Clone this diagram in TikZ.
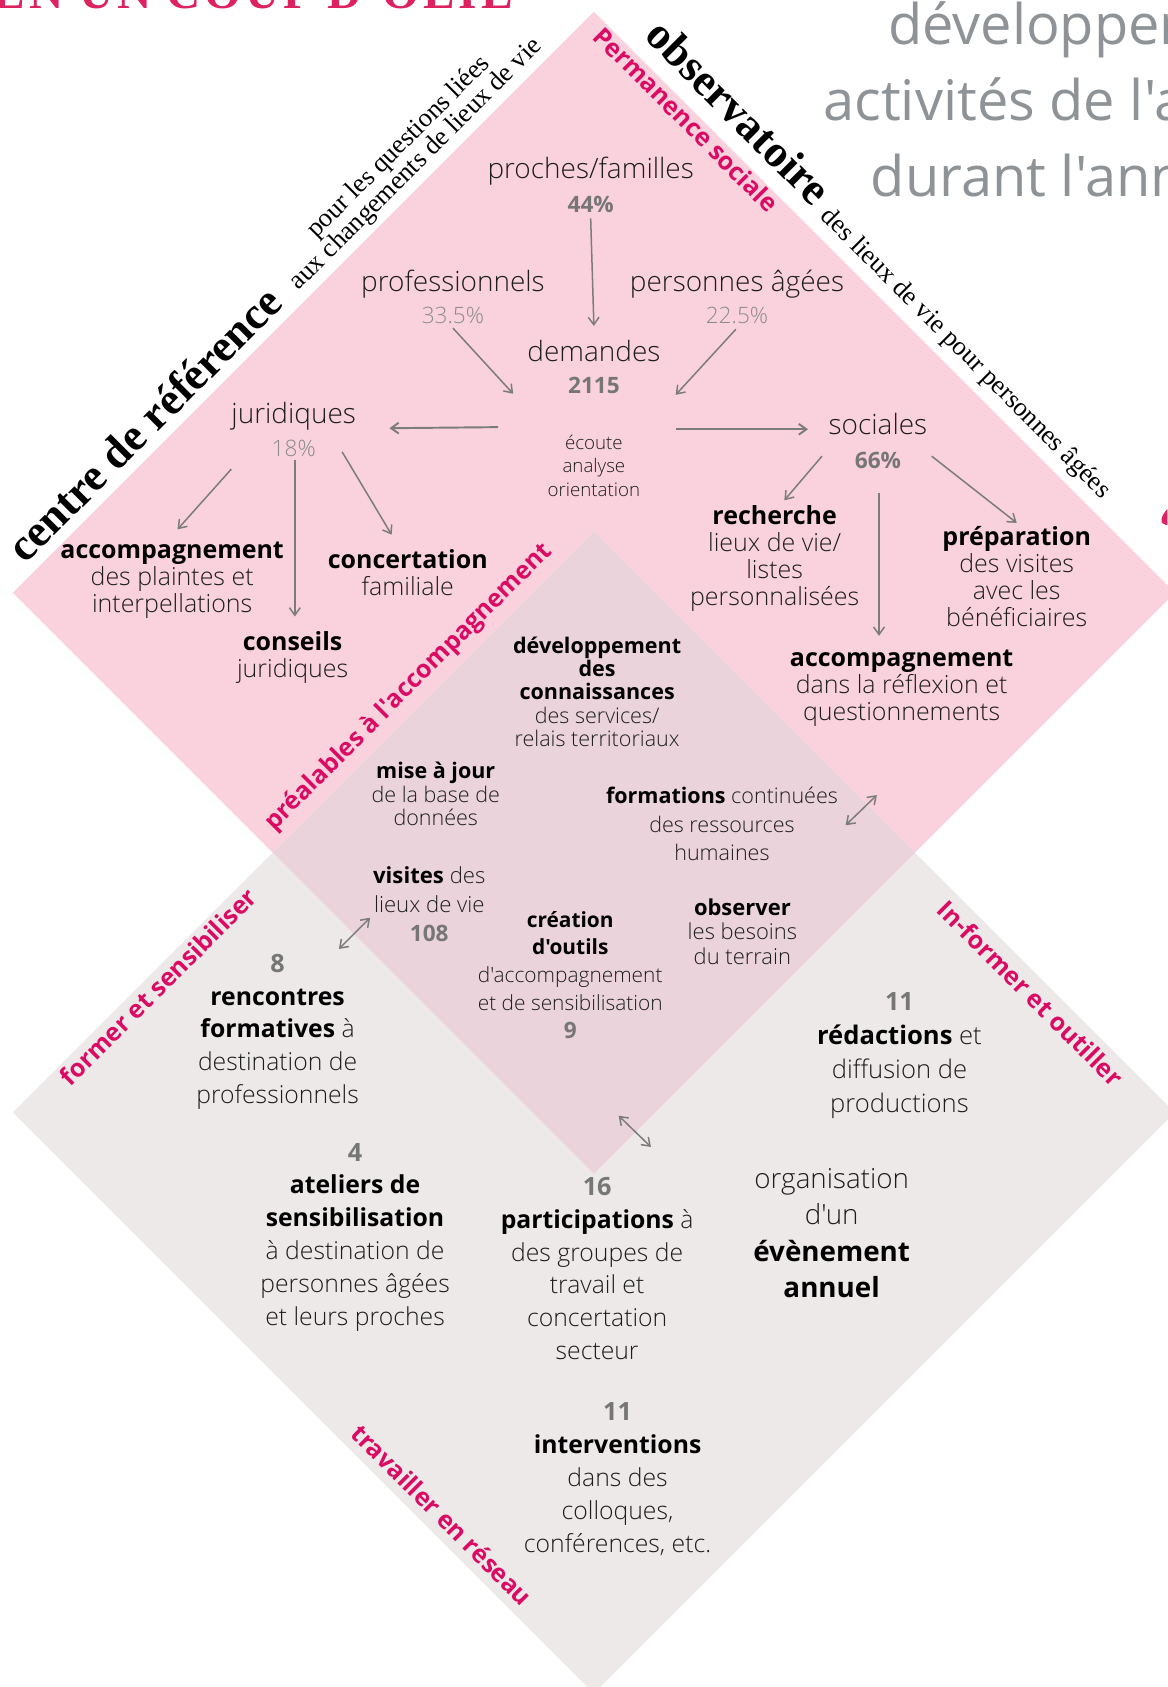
\documentclass[tikz,border=0pt]{standalone}
\usepackage{fontspec}
\usetikzlibrary{arrows.meta,calc}
\setmainfont{Open Sans}
\newfontfamily\osl{Open Sans Light}
\newfontfamily\osreg{Open Sans}
\newfontfamily\serifd{Liberation Serif}
\definecolor{pinkd}{HTML}{FAD2DE}
\definecolor{greyd}{HTML}{EDE9E9}
\definecolor{both}{HTML}{EAD3DA}
\definecolor{mag}{HTML}{DB0B63}
\definecolor{ttl}{HTML}{DC2360}
\definecolor{hd}{HTML}{8E9397}
\definecolor{txt}{HTML}{1E1E1E}
\definecolor{stat}{HTML}{767676}
\definecolor{statl}{HTML}{8C8C8C}
\definecolor{arrc}{HTML}{7C7C7C}
\newcommand\fsz[2]{\fontsize{#1}{#2}\selectfont}
\newcommand\bb[1]{{\osreg\bfseries\color{black}#1}}
\newcommand\st[1]{{\osreg\bfseries\color{stat}\fontsize{10.5}{12}\selectfont #1}}
\newcommand\stb[1]{{\osreg\bfseries\color{stat}\fontsize{11.7}{12}\selectfont #1}}
\newcommand\stl[1]{{\color{statl}\fontsize{10.5}{12}\selectfont #1}}
\tikzset{
  lab/.style={inner sep=0pt,align=center,text=txt},
  big/.style={lab,font=\osl\fsz{13}{15.5}},
  blk/.style={lab,font=\osl\fsz{11.6}{12.6}},
  mid/.style={lab,font=\osl\fsz{10}{10.8}},
  low/.style={lab,font=\osl\fsz{11.5}{15.3}},
  side/.style={inner sep=0pt,text=mag,font=\osreg\bfseries\fsz{11.6}{13}},
  sdis/.style={inner sep=0pt,text=black,align=center,font=\serifd\bfseries\fsz{21}{24}},
  sser/.style={inner sep=0pt,text=black,align=center,font=\serifd\fsz{12.3}{11.3}},
  head/.style={inner sep=0pt,anchor=base west,text=hd,font=\osreg\fsz{26}{30}},
  arr/.style={draw=arrc,line width=0.7pt,-{Straight Barb[length=3.5pt,width=5pt]}},
  arrb/.style={draw=arrc,line width=0.7pt,{Straight Barb[length=3.5pt,width=5pt]}-{Straight Barb[length=3.5pt,width=5pt]}}
}
\begin{document}
\begin{tikzpicture}[x=0.5pt,y=-0.5pt]
\useasboundingbox (0,0) rectangle (1085,1568);
% diamonds
\fill[pinkd] (552,11) -- (1092,551) -- (552,1091) -- (12,551) -- cycle;
\fill[greyd] (552,494) -- (1092,1034) -- (552,1574) -- (12,1034) -- cycle;
\fill[both] (552,494) -- (850.5,792.5) -- (552,1091) -- (253.5,792.5) -- cycle;
\clip (0,0) rectangle (1085,1568);
\fill[ttl] (1086,472) .. controls (1082,476) and (1078,482) .. (1080,486) .. controls (1082,488) and (1085,488) .. (1086,488) -- cycle;
% header
\node[inner sep=0pt,anchor=base west,text=ttl,font=\serifd\bfseries\fsz{22}{26}] (title) at (-6,8) {\addfontfeature{LetterSpace=8}EN UN COUP D'OEIL};
\node[head] (h1) at (825,41) {développer};
\node[head] (h2) at (765,112) {activités de l'association};
\node[head] (h3) at (809,183) {durant l'année};
% rotated titles
\node[sdis,rotate=45] (cref) at (134,394) {centre de référence};
\node[sser,rotate=45] (cref2) at (379,145) {pour les questions liées\\aux changements de lieux de vie};
\node[sdis,rotate=-45] (obs) at (687,104) {observatoire};
\node[sser,rotate=-45] (obs2) at (897,329) {des lieux de vie pour personnes âgées};
\node[side,rotate=-45] (perm) at (638,111) {Permanence sociale};
\node[side,rotate=45] (prea) at (380,639) {préalables à l'accompagnement};
\node[side,rotate=45] (form) at (147,917) {former et sensibiliser};
\node[side,rotate=-45] (info) at (958,923) {In-former et outiller};
\node[side,rotate=-45] (trav) at (411,1408) {travailler en réseau};
% top block
\node[big] (pf) at (549,172) {proches/familles\\\st{44\%}};
\node[big,font=\osl\fsz{13}{15}] (pro) at (421,276) {professionnels\\\stl{33.5\%}};
\node[big,font=\osl\fsz{13}{15}] (pa) at (685,276) {personnes âgées\\\stl{22.5\%}};
\node[big,font=\osl\fsz{13}{15}] (dem) at (552,341) {demandes\\\st{2115}};
\node[big] (jur) at (273,399) {juridiques\\\stl{18\%}};
\node[big] (soc) at (816,410) {sociales\\\st{66\%}};
\node[lab,font=\osl\fsz{8.7}{11}] (eco) at (552,433) {écoute\\analyse\\orientation};
\node[blk] (acc1) at (160,539) {\bb{accompagnement}\\des plaintes et\\interpellations};
\node[blk] (conc) at (379,532) {\bb{concertation}\\familiale};
\node[blk] (cons) at (272,611) {\bb{conseils}\\juridiques};
\node[blk] (rech) at (720,519) {\bb{recherche}\\lieux de vie/\\listes\\personnalisées};
\node[blk] (prep) at (945,536) {\bb{préparation}\\des visites\\avec les\\bénéficiaires};
\node[blk] (acc2) at (838,640) {\bb{accompagnement}\\dans la réflexion et\\questionnements};
% centre block
\node[mid] (dev) at (555,643) {\bb{développement}\\\bb{des}\\\bb{connaissances}\\des services/\\relais territoriaux};
\node[mid] (maj) at (405,738) {\bb{mise à jour}\\de la base de\\données};
\node[mid,font=\osl\fsz{10}{13.3}] (fc) at (671,766) {\bb{formations} continuées\\des ressources\\humaines};
\node[mid,font=\osl\fsz{10.3}{13.5}] (vis) at (399,840) {\bb{visites} des\\lieux de vie\\\st{108}};
\node[mid,font=\osl\fsz{9.7}{12.9}] (out) at (530,906) {\bb{création}\\\bb{d'outils}\\d'accompagnement\\et de sensibilisation\\\st{9}};
\node[mid,font=\osl\fsz{10.2}{11.5}] (obsv) at (690,866) {\bb{observer}\\les besoins\\du terrain};
% lower block
\node[low] (rf) at (258,959) {\stb{8}\\\bb{rencontres}\\\bb{formatives} à\\destination de\\professionnels};
\node[low,font=\osl\fsz{11.9}{15.8}] (red) at (836,981) {\stb{11}\\\bb{rédactions} et\\diffusion de\\productions};
\node[low] (ate) at (330,1150) {\stb{4}\\\bb{ateliers de}\\\bb{sensibilisation}\\à destination de\\personnes âgées\\et leurs proches};
\node[low] (part) at (555,1179) {\stb{16}\\\bb{participations} à\\des groupes de\\travail et\\concertation\\secteur};
\node[lab,font=\osl\fsz{12.9}{17}] (org) at (773,1146) {organisation\\d'un\\\bb{évènement}\\\bb{annuel}};
\node[low] (inter) at (574,1375) {\stb{11}\\\bb{interventions}\\dans des\\colloques,\\conférences, etc.};
% arrows
\draw[arr] ($(pf)+(0,31)$) -- ($(dem)+(0,-38)$);
\draw[arr] ($(pro)+(0,29)$) -- ($(dem)+(-75,25)$);
\draw[arr] ($(pa)+(-1,30)$) -- ($(dem)+(76,26)$);
\draw[arr,line width=0.9pt] ($(eco)+(-89,-36)$) -- ($(jur)+(89,-1)$);
\draw[arr,line width=0.9pt] ($(eco)+(76,-34)$) -- ($(soc)+(-65,-11)$);
\draw[arr] ($(jur)+(-58,37)$) -- ($(acc1)+(5,-47)$);
\draw[arr] ($(jur)+(1,29)$) -- ($(cons)+(2,-38)$);
\draw[arr] ($(jur)+(45,21)$) -- ($(conc)+(-15,-35)$);
\draw[arr] ($(soc)+(-52,14)$) -- ($(rech)+(9,-54)$);
\draw[arr] ($(soc)+(1,48)$) -- ($(acc2)+(-21,-49)$);
\draw[arr] ($(soc)+(50,14)$) -- ($(prep)+(0,-50)$);
\coordinate (a1) at (786,767); \coordinate (a2) at (815,739);
\coordinate (b1) at (315,882); \coordinate (b2) at (344,853);
\coordinate (c1) at (575,1037); \coordinate (c2) at (605,1066);
\draw[arrb] (a1) -- (a2);
\draw[arrb] (b1) -- (b2);
\draw[arrb] (c1) -- (c2);
\end{tikzpicture}
\end{document}
